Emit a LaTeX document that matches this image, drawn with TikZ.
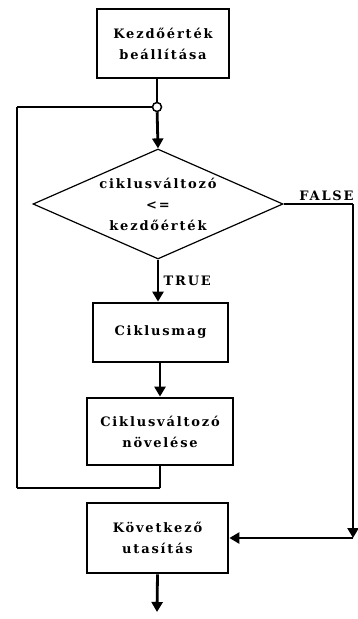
\documentclass[tikz,border=0pt]{standalone}
\usepackage{fontspec}
\setmainfont{DejaVu Serif}[LetterSpace=14]
\usetikzlibrary{arrows.meta,shapes.geometric}

\begin{document}
\begin{tikzpicture}[x=1pt, y=-1pt, line width=2.8pt,
    font=\bfseries\fontsize{13}{21}\selectfont,
    >={Triangle[width=11pt,length=10pt]}]
            \useasboundingbox (0,0) rectangle (357,619);

            \node[shape=rectangle, draw=black, minimum width=132pt, minimum height=69pt, align=center] (a) at (163, 43.5){Kezdőérték\\beállítása};
            \node[shape=circle, draw=black, line width=1.5pt, inner sep=0pt, minimum size=9pt] (j) at (157, 107){};
            \node[shape=diamond, draw=black, line width=1.2pt, shape aspect=2.27, minimum width=250pt, minimum height=110pt, inner sep=0pt, align=center] (b) at (158, 204){ciklusváltozó\\<=\\kezdőérték};
            \node[shape=rectangle, draw=black, minimum width=135pt, minimum height=59pt] (c) at (160.5, 332.5){Ciklusmag};
            \node[shape=rectangle, draw=black, minimum width=146pt, minimum height=67pt, align=center] (d) at (160, 431.5){Ciklusváltozó\\növelése};
            \node[shape=rectangle, draw=black, minimum width=141pt, minimum height=70pt, align=center] (e) at (157.5, 538){Következő\\utasítás};

            \coordinate (f1) at (17, 488);
            \coordinate (f2) at (353, 204);
            \coordinate (x) at (157, 612);

            \path [-] (a.south -| j) edge (j);
            \path [->] (j) edge (b.north);
            \path [->] (b.south) edge node[right, xshift=1pt] {TRUE} (b.south |- c.north);
            \path [->] (c.south -| d) edge (d.north);
            \path [-] (d.south) edge (d.south |- f1) (d.south |- f1) edge (f1) (f1) edge (f1 |- j) (f1 |- j) edge (j);
            \path [-] (b.east) edge (f2);
            \node[anchor=south east, inner sep=2pt, xshift=4pt] (l) at (f2) {FALSE};
            \path [->] (f2) edge (f2 |- e) (f2 |- e) edge (e.east);
            \path [->] (e.south) edge (x);
        \end{tikzpicture}
\end{document}
